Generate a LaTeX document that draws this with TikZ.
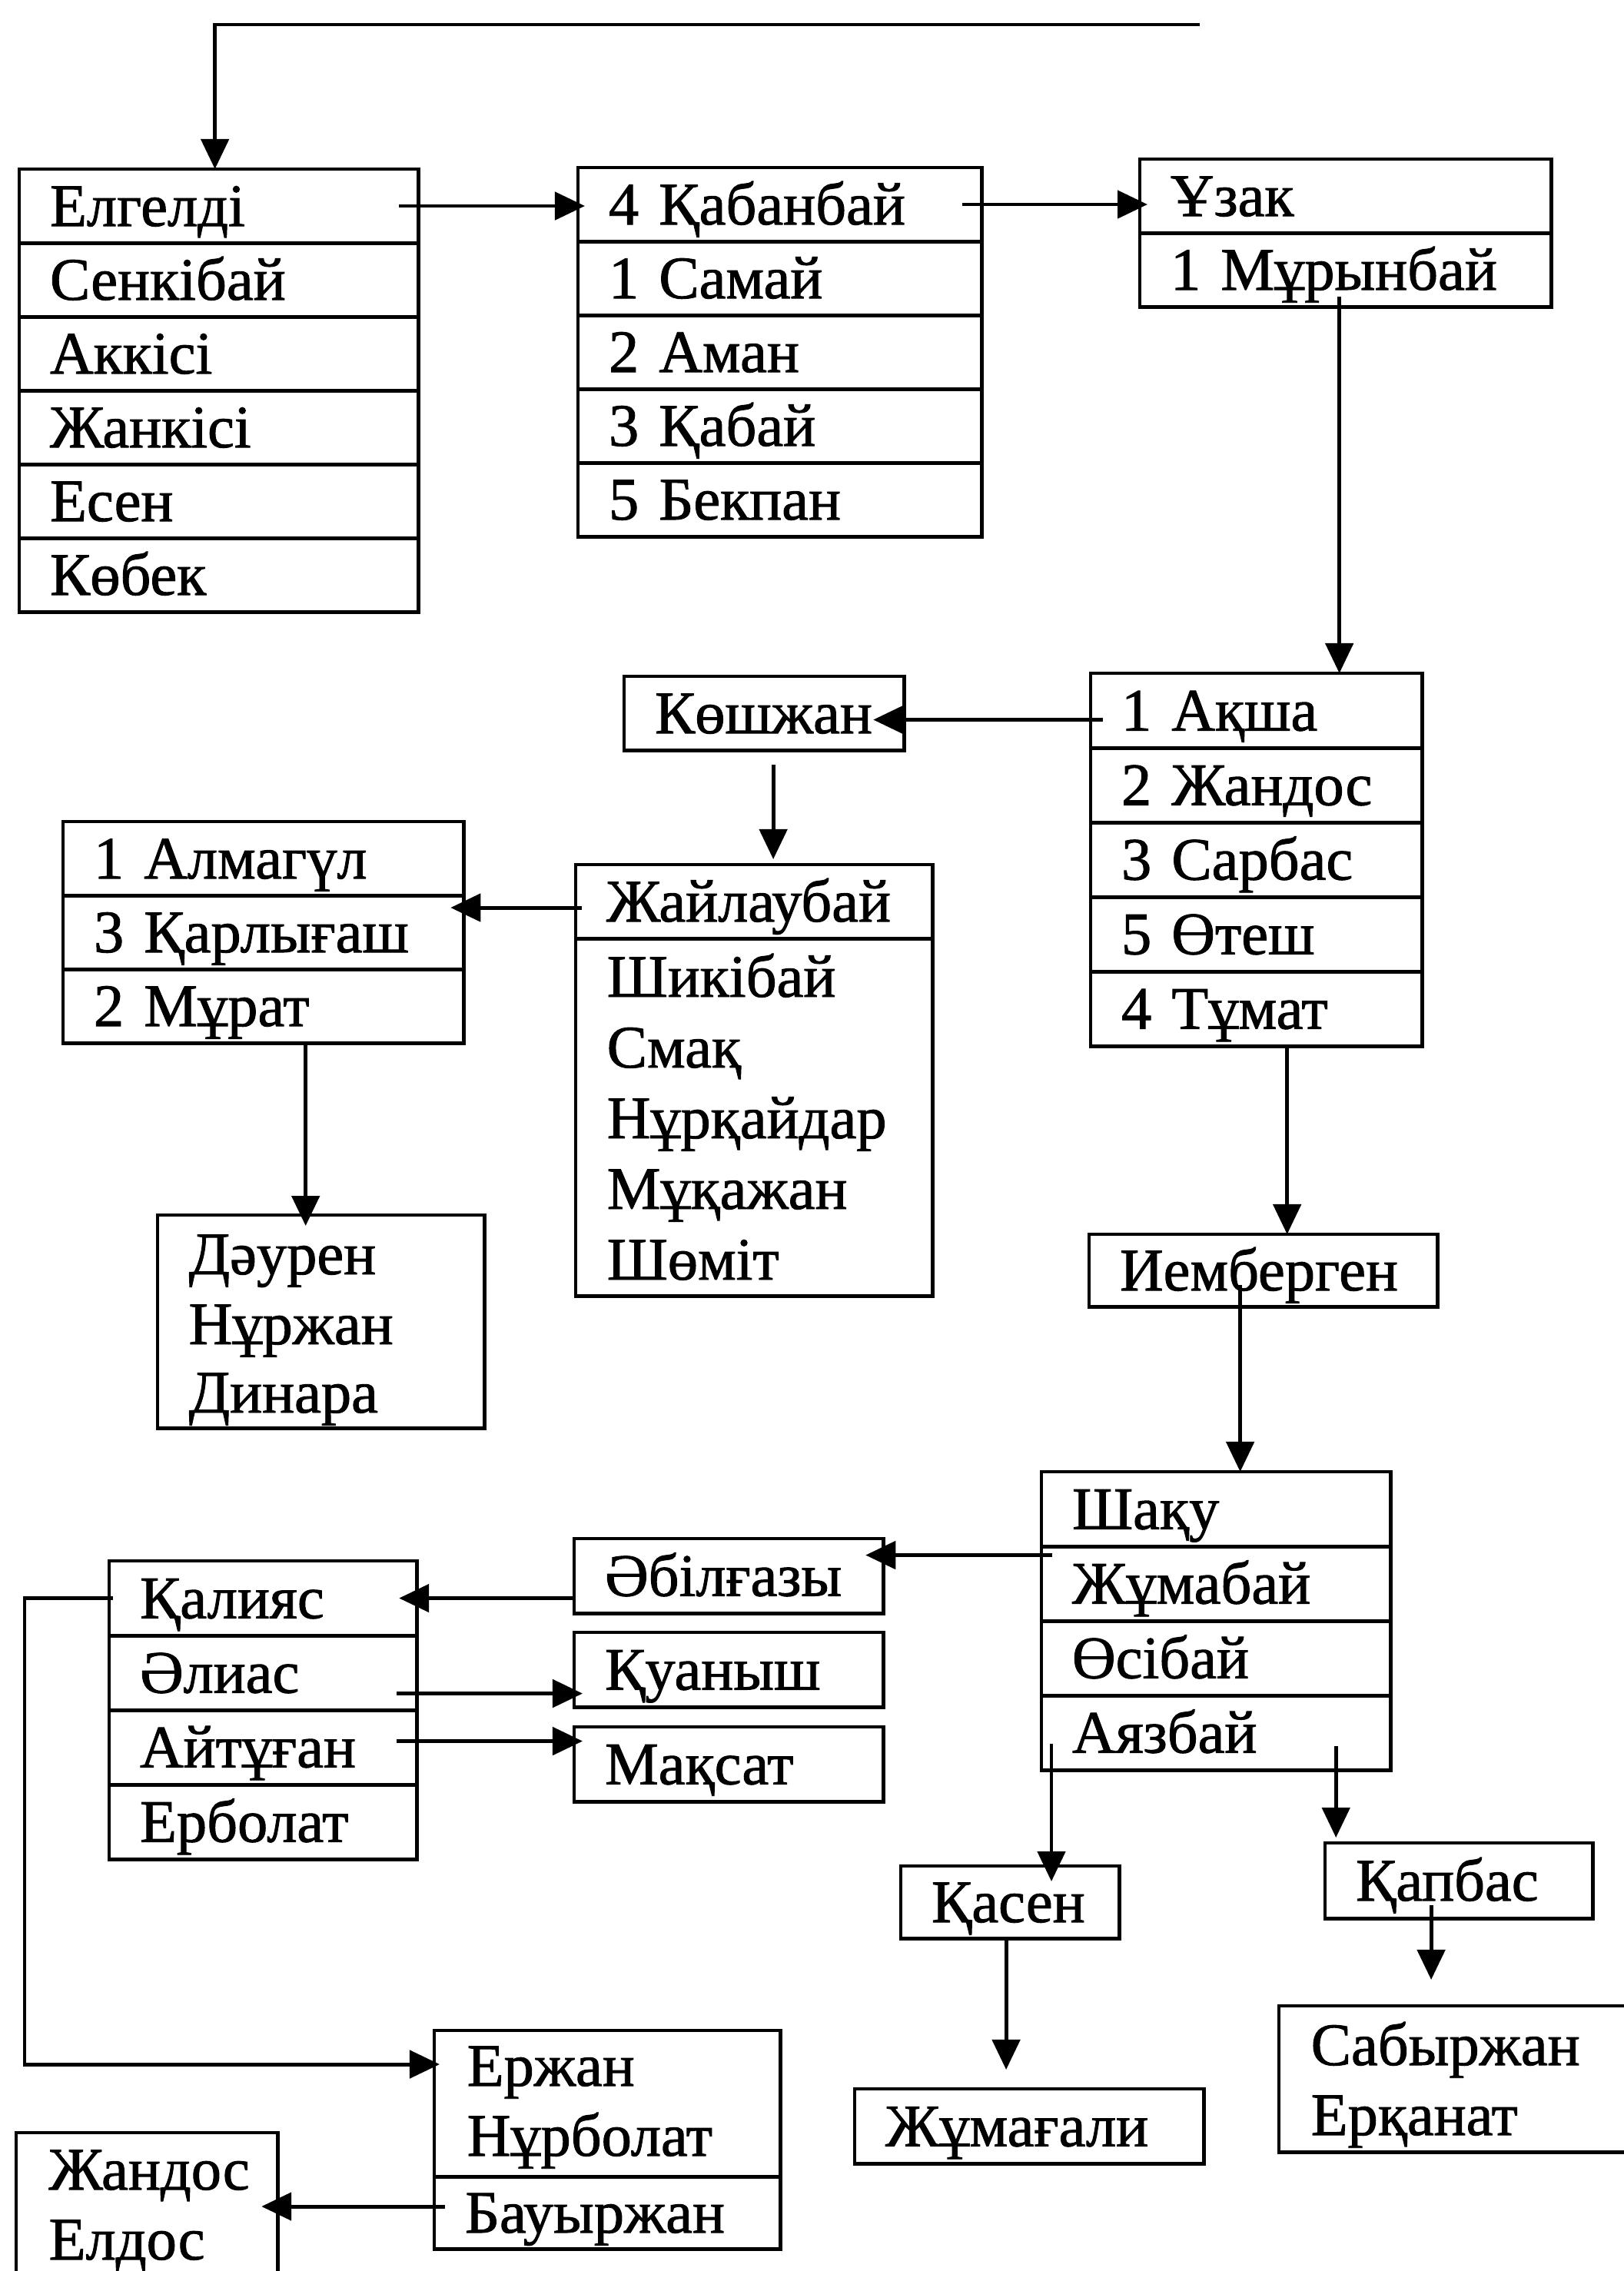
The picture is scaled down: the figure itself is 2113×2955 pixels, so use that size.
\documentclass[tikz,border=0pt]{standalone}
\usepackage{fontspec}
\setmainfont{Liberation Serif}[FakeBold=1.2]
\usetikzlibrary{arrows.meta,calc}
\begin{document}
\begin{tikzpicture}[x=0.01cm,y=-0.01cm,
  font=\fontsize{22.3pt}{26pt}\selectfont,
  cell/.style 2 args={draw, line width=1.4pt, anchor=north west, outer sep=0pt,
    inner xsep=0.4cm, inner ysep=0pt, text width=#1, minimum height=#2,
    text height=0.52cm, text depth=0pt, align=left},
  frame/.style 2 args={draw, line width=1.4pt, anchor=north west, outer sep=0pt,
    inner sep=0pt, minimum width=#1, minimum height=#2},
  txt/.style={anchor=base west, inner sep=0pt},
  arr/.style={line width=1.4pt, -{Triangle[length=0.39cm,width=0.36cm]}},
  rowA/.style={cell={4.39cm}{0.96cm}},
  rowB/.style={cell={4.45cm}{0.96cm}},
  rowC/.style={cell={4.55cm}{0.96cm}},
  rowD/.style={cell={3.51cm}{0.97cm}},
  rowF/.style={cell={4.41cm}{0.96cm}},
  rowI/.style={cell={3.74cm}{0.97cm}},
  rowM/.style={cell={3.20cm}{0.97cm}},
  rowJ/.style={cell={3.22cm}{0.97cm}}
]
\fill[white] (0,0) rectangle (2113,2955);
\useasboundingbox (0,0) rectangle (2113,2955);

% Box A
\node[rowA] (a1) at (25,220) {Елгелді};
\node[rowA] (a2) at (25,316) {Сенкібай};
\node[rowA] (a3) at (25,412) {Аккісі};
\node[rowA] (a4) at (25,508) {Жанкісі};
\node[rowA] (a5) at (25,604) {Есен};
\node[rowA] (a6) at (25,700) {Көбек};

% Box B
\node[rowB] (b1) at (752,218) {4 Қабанбай};
\node[rowB] (b2) at (752,314) {1 Самай};
\node[rowB] (b3) at (752,410) {2 Аман};
\node[rowB] (b4) at (752,506) {3 Қабай};
\node[rowB] (b5) at (752,602) {5 Бекпан};

% Box C
\node[rowC] (c1) at (1483,207) {Ұзак};
\node[rowC] (c2) at (1483,303) {1 Мұрынбай};

% Box D
\node[rowD] (d1) at (1419,876) {1 Ақша};
\node[rowD] (d2) at (1419,973) {2 Жандос};
\node[rowD] (d3) at (1419,1070) {3 Сарбас};
\node[rowD] (d4) at (1419,1167) {5 Өтеш};
\node[rowD] (d5) at (1419,1264) {4 Тұмат};

% Көшжан
\node[cell={2.84cm}{0.96cm}] (kosh) at (812,880) {Көшжан};

% Box E
\node[cell={3.84cm}{0.96cm}] (e1) at (749,1125) {Жайлаубай};
\node[frame={4.64cm}{4.65cm}] (e2) at (749,1221) {};
\node[txt] (e2a) at (789,1297) {Шикібай};
\node[txt] (e2b) at (789,1389) {Смақ};
\node[txt] (e2c) at (789,1481) {Нұрқайдар};
\node[txt] (e2d) at (789,1573) {Мұқажан};
\node[txt] (e2e) at (789,1665) {Шөміт};

% Box F
\node[rowF] (f1) at (82,1069) {1 Алмагүл};
\node[rowF] (f2) at (82,1165) {3 Қарлығаш};
\node[rowF] (f3) at (82,1261) {2 Мұрат};

% Box G
\node[frame={4.25cm}{2.77cm}] (dau) at (205,1581) {};
\node[txt] (g1) at (245,1658) {Дәурен};
\node[txt] (g2) at (245,1749) {Нұржан};
\node[txt] (g3) at (245,1838) {Динара};

% Иемберген
\node[cell={3.73cm}{0.94cm}] (iem) at (1417,1606) {Иемберген};

% Box I
\node[rowI] (i1) at (1355,1915) {Шақу};
\node[rowI] (i2) at (1355,2012) {Жұмабай};
\node[rowI] (i3) at (1355,2109) {Өсібай};
\node[rowI] (i4) at (1355,2206) {Аязбай};

% J K L
\node[rowJ] (abil) at (747,2002) {Әбілғазы};
\node[rowJ] (kuan) at (747,2124) {Қуаныш};
\node[rowJ] (maks) at (747,2247) {Мақсат};

% Box M
\node[rowM] (m1) at (142,2031) {Қалияс};
\node[rowM] (m2) at (142,2128) {Әлиас};
\node[rowM] (m3) at (142,2225) {Айтұған};
\node[rowM] (m4) at (142,2322) {Ерболат};

% Box N
\node[frame={4.50cm}{1.90cm}] (erzh) at (565,2642) {};
\node[txt] (n1) at (607,2714) {Ержан};
\node[txt] (n2) at (607,2805) {Нұрболат};
\node[cell={3.70cm}{0.94cm}] (baur) at (565,2832) {Бауыржан};

% Box O
\node[frame={3.40cm}{3.00cm}] (zhb) at (21,2775) {};
\node[txt] (o1) at (63,2849) {Жандос};
\node[txt] (o2) at (63,2940) {Елдос};

% P Q R S
\node[cell={2.04cm}{0.94cm}] (kasen) at (1172,2428) {Қасен};
\node[cell={2.68cm}{0.98cm}] (kap) at (1724,2398) {Қапбас};
\node[frame={4.62cm}{1.90cm}] (sab) at (1664,2610) {};
\node[txt] (r1) at (1705,2687) {Сабыржан};
\node[txt] (r2) at (1705,2778) {Ерқанат};
\node[cell={3.74cm}{0.97cm}] (zhum) at (1112,2718) {Жұмағали};

% Connectors
\coordinate (topR) at (1561,32);
\draw[arr] (topR) -| ([xshift=-0.05cm]a1.north);
\draw[arr, shorten >=-0.09cm] ([xshift=-0.25cm]a1.east) -- (a1.east -| b1.west);
\draw[arr, shorten >=-0.1cm] ([xshift=-0.25cm]b1.east) -- (b1.east -| c1.west);

\coordinate (s1) at ([xshift=-0.08cm,yshift=0.13cm]c2.south);
\draw[arr] (s1) -- (s1 |- d1.north);

\coordinate (s2) at ([xshift=0.16cm,yshift=-0.12cm]d1.west);
\draw[arr, shorten >=-0.4cm] (s2) -- (s2 -| kosh.east);

\coordinate (s3) at ([xshift=0.12cm,yshift=-0.19cm]kosh.south);
\draw[arr, shorten >=0.07cm] (s3) -- (s3 |- e1.north);

\coordinate (s4) at ([xshift=0.08cm,yshift=-0.08cm]e1.west);
\draw[arr, shorten >=-0.17cm] (s4) -- (s4 -| f2.east);

\coordinate (s5) at ([xshift=0.55cm]f3.south);
\draw[arr, shorten >=-0.14cm] (s5) -- (s5 |- dau.north);

\coordinate (s6) at ([xshift=0.40cm]d5.south);
\draw[arr] (s6) -- (s6 |- iem.north);

\coordinate (s7) at ([xshift=-0.30cm,yshift=0.28cm]iem.south);
\draw[arr] (s7) -- (s7 |- i1.north);

\coordinate (s8) at ([xshift=0.14cm,yshift=0.37cm]i2.west);
\draw[arr, shorten >=-0.23cm] (s8) -- (s8 -| abil.east);

\draw[arr, shorten >=-0.23cm] (m1.east -| abil.west) -- (m1.east);

\coordinate (s9) at ([xshift=-0.26cm,yshift=-0.27cm]m2.east);
\draw[arr, shorten >=-0.11cm] (s9) -- (s9 -| kuan.west);
\coordinate (s10) at ([xshift=-0.26cm,yshift=0.08cm]m3.east);
\draw[arr, shorten >=-0.11cm] (s10) -- (s10 -| maks.west);

\coordinate (lx) at (32,0);
\draw[arr, shorten >=-0.07cm] ([xshift=0.05cm]m1.west) -- (m1.west -| lx) |- ([yshift=-0.44cm]erzh.north west);

\coordinate (s11) at ([xshift=0.14cm,yshift=0.08cm]baur.west);
\draw[arr, shorten >=-0.21cm] (s11) -- (s11 -| zhb.east);

\coordinate (s12) at ([xshift=0.13cm,yshift=0.34cm]i4.south west);
\draw[arr, shorten >=-0.2cm] (s12) -- (s12 |- kasen.north);

\coordinate (s13) at ([xshift=-0.71cm,yshift=0.31cm]i4.south east);
\draw[arr, shorten >=0.07cm] (s13) -- (s13 |- kap.north);

\coordinate (s14) at ([xshift=-0.05cm]kasen.south);
\draw[arr, shorten >=0.25cm] (s14) -- (s14 |- zhum.north);

\coordinate (s15) at ([xshift=1.38cm,yshift=0.17cm]kap.south west);
\draw[arr, shorten >=0.34cm] (s15) -- (s15 |- sab.north);
\end{tikzpicture}
\end{document}
